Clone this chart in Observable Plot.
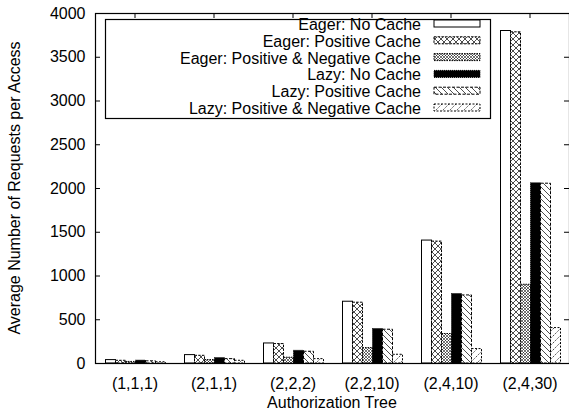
<!DOCTYPE html>
<html><head><meta charset="utf-8">
<script src="https://cdn.jsdelivr.net/npm/d3@7"></script>
<script src="https://cdn.jsdelivr.net/npm/@observablehq/plot@0.6"></script>
<style>body{margin:0;background:#fff} svg{display:block}</style>
</head><body><div id="chart"></div>
<script>
const trees = ["(1,1,1)", "(2,1,1)", "(2,2,2)", "(2,2,10)", "(2,4,10)", "(2,4,30)"];
const seriesNames = ["Eager: No Cache", "Eager: Positive Cache", "Eager: Positive & Negative Cache",
  "Lazy: No Cache", "Lazy: Positive Cache", "Lazy: Positive & Negative Cache"];
const eagerNoCache  = [39, 96, 229, 706, 1405, 3800];
const eagerPositive = [31, 88, 222, 695, 1393, 3785];
const eagerPosNeg   = [18, 39, 66, 176, 337, 900];
const lazyNoCache   = [33, 62, 145, 394, 794, 2060];
const lazyPositive  = [25, 50, 134, 386, 778, 2055];
const lazyPosNeg    = [14, 31, 50, 100, 165, 405];
const yTicks = [0, 500, 1000, 1500, 2000, 2500, 3000, 3500, 4000];
const xTitle = "Authorization Tree";
const yTitle = "Average Number of Requests per Access";

const seriesValues = [eagerNoCache, eagerPositive, eagerPosNeg, lazyNoCache, lazyPositive, lazyPosNeg];
const fills = ["white", "url(#pEP)", "url(#pEPN)", "black", "url(#pLP)", "url(#pLPN)"];
const dashes = [null, "2.5,1.2", "1.5,1", "1,1", "3,1.5", "2,1.5"];

const W = 569, H = 415, mL = 95, mR = 0, mT = 13, mB = 52;
const plotW = W - mL - mR, plotH = H - mT - mB;
const bw = plotW / trees.length, barW = 10, groupOff = 10.5;
const font = "'Liberation Sans', Arial, Helvetica, sans-serif";

const marks = [];
seriesValues.forEach((vals, i) => {
  const data = trees.map((t, j) => ({tree: t, value: vals[j]}));
  marks.push(Plot.barY(data, {
    x: "tree", y: "value",
    fill: fills[i], stroke: "black", strokeWidth: 1,
    strokeDasharray: dashes[i] || undefined,
    insetLeft: groupOff + barW * i,
    insetRight: bw - groupOff - barW * (i + 1)
  }));
});
marks.push(Plot.ruleY(yTicks, {y: d => d, stroke: "black", insetRight: plotW - 5}));
marks.push(Plot.ruleY(yTicks, {y: d => d, stroke: "black", insetLeft: plotW - 5}));
marks.push(Plot.ruleX(trees, {x: d => d, stroke: "black", insetBottom: plotH - 5}));
marks.push(Plot.frame({stroke: "black", strokeWidth: 1.2}));

const chart = Plot.plot({
  width: W, height: H,
  marginLeft: mL, marginRight: mR, marginTop: mT, marginBottom: mB,
  style: {fontFamily: font, fontSize: "16px", color: "black", background: "white"},
  x: {domain: trees, padding: 0, tickSize: 0, tickPadding: 14, label: null},
  y: {domain: [0, 4000], ticks: yTicks, tickSize: 0, tickPadding: 10, label: null, tickFormat: d => String(d)},
  marks
});

const svg = d3.select(chart);
const defs = svg.insert("defs", ":first-child");
function pat(id, size, paths, sw, dash) {
  const p = defs.append("pattern").attr("id", id).attr("patternUnits", "userSpaceOnUse")
    .attr("width", size).attr("height", size);
  p.append("rect").attr("width", size).attr("height", size).attr("fill", "white");
  p.append("path").attr("d", paths).attr("stroke", "black").attr("stroke-width", sw)
    .attr("fill", "none").attr("stroke-dasharray", dash || null);
}
pat("pEP", 6, "M0,0L6,6M6,0L0,6M-1,5L1,7M5,-1L7,1", 0.7);
pat("pEPN", 3, "M0,0L3,3M3,0L0,3", 0.55);
pat("pLP", 6, "M0,0L6,6M-1,5L1,7M5,-1L7,1", 0.7);
pat("pLPN", 7, "M0,7L7,0M-1,1L1,-1M6,8L8,6", 0.7, "1.5,1");

// axis titles
svg.append("text").attr("x", mL + plotW / 2).attr("y", 408).attr("text-anchor", "middle")
  .attr("font-family", font).attr("font-size", 16).text(xTitle);
svg.append("text").attr("transform", `translate(20,${mT + plotH / 2}) rotate(-90)`)
  .attr("text-anchor", "middle").attr("font-family", font).attr("font-size", 16).text(yTitle);

// legend
const lg = svg.append("g");
lg.append("rect").attr("x", 105.5).attr("y", 19.5).attr("width", 385).attr("height", 99)
  .attr("fill", "white").attr("stroke", "black").attr("stroke-width", 1.2);
seriesNames.forEach((name, i) => {
  const base = 30 + i * 16.8;
  lg.append("text").attr("x", 421).attr("y", base).attr("text-anchor", "end")
    .attr("font-family", font).attr("font-size", 16).text(name);
  lg.append("rect").attr("x", 434).attr("y", base - 10).attr("width", 46).attr("height", 7)
    .attr("fill", fills[i]).attr("stroke", "black").attr("stroke-width", 1)
    .attr("stroke-dasharray", dashes[i]);
});

document.getElementById("chart").appendChild(chart);
</script>
</body></html>
